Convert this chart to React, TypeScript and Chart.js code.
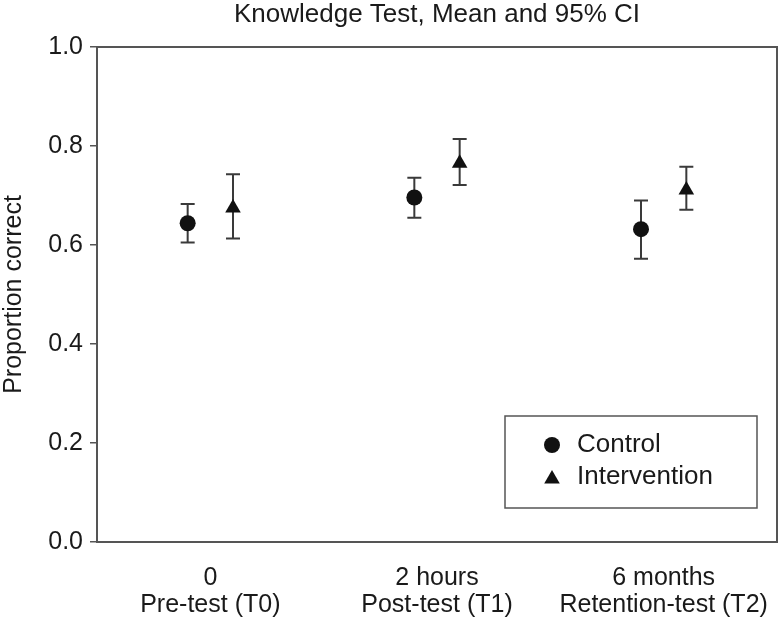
import React, { useEffect, useRef } from 'react';
import { Chart, registerables } from 'chart.js';

Chart.register(...registerables);

const categories: string[][] = [
  ['0', 'Pre-test (T0)'],
  ['2 hours', 'Post-test (T1)'],
  ['6 months', 'Retention-test (T2)'],
];
const categoryPositions = [1, 2, 3];
const groupOffset = 0.1;

const controlMean = [0.644, 0.696, 0.632];
const controlLower = [0.605, 0.655, 0.572];
const controlUpper = [0.683, 0.736, 0.69];

const interventionMean = [0.675, 0.765, 0.711];
const interventionLower = [0.613, 0.721, 0.671];
const interventionUpper = [0.743, 0.814, 0.758];

const yTicks = [0, 0.2, 0.4, 0.6, 0.8, 1.0];

const FONT = "'Liberation Sans', Arial, Helvetica, sans-serif";
const INK = '#111111';

function drawMarker(ctx: CanvasRenderingContext2D, style: string, x: number, y: number, r: number) {
  ctx.beginPath();
  if (style === 'triangle') {
    let rad = 0;
    const third = (2 * Math.PI) / 3;
    ctx.moveTo(x + Math.sin(rad) * r, y - Math.cos(rad) * r);
    rad += third;
    ctx.lineTo(x + Math.sin(rad) * r, y - Math.cos(rad) * r);
    rad += third;
    ctx.lineTo(x + Math.sin(rad) * r, y - Math.cos(rad) * r);
    ctx.closePath();
  } else {
    ctx.arc(x, y, r, 0, Math.PI * 2);
  }
  ctx.fill();
}

const errorBarPlugin = {
  id: 'errorBars',
  beforeDatasetsDraw(chart: any) {
    const ctx: CanvasRenderingContext2D = chart.ctx;
    const yScale = chart.scales.y;
    chart.data.datasets.forEach((ds: any, i: number) => {
      const meta = chart.getDatasetMeta(i);
      meta.data.forEach((pt: any, j: number) => {
        const x = pt.x;
        const yl = yScale.getPixelForValue(ds.lower[j]);
        const yu = yScale.getPixelForValue(ds.upper[j]);
        ctx.save();
        ctx.strokeStyle = '#3a3a3a';
        ctx.lineWidth = 2;
        ctx.beginPath();
        ctx.moveTo(x, yl);
        ctx.lineTo(x, yu);
        ctx.moveTo(x - 7, yl);
        ctx.lineTo(x + 7, yl);
        ctx.moveTo(x - 7, yu);
        ctx.lineTo(x + 7, yu);
        ctx.stroke();
        ctx.restore();
      });
    });
  },
};

const framePlugin = {
  id: 'frame',
  afterDatasetsDraw(chart: any) {
    const { ctx, chartArea } = chart;
    ctx.save();
    ctx.strokeStyle = '#555555';
    ctx.lineWidth = 2;
    ctx.strokeRect(chartArea.left, chartArea.top, chartArea.right - chartArea.left, chartArea.bottom - chartArea.top);
    ctx.restore();
  },
};

const boxLegendPlugin = {
  id: 'boxLegend',
  afterDraw(chart: any) {
    const { ctx, chartArea } = chart;
    const w = 252;
    const h = 92;
    const left = chartArea.right - 20 - w;
    const top = chartArea.bottom - 34 - h;
    ctx.save();
    ctx.fillStyle = '#ffffff';
    ctx.fillRect(left, top, w, h);
    ctx.strokeStyle = '#555555';
    ctx.lineWidth = 1.5;
    ctx.strokeRect(left, top, w, h);
    const rowY = [top + 29, top + 61];
    chart.data.datasets.forEach((ds: any, i: number) => {
      const y = rowY[i];
      ctx.fillStyle = INK;
      if (ds.pointStyle === 'triangle') {
        drawMarker(ctx, 'triangle', left + 47, y + 2, 9);
      } else {
        drawMarker(ctx, 'circle', left + 47, y, 8);
      }
      ctx.fillStyle = '#1a1a1a';
      ctx.font = `26px ${FONT}`;
      ctx.textAlign = 'left';
      ctx.textBaseline = 'middle';
      ctx.fillText(ds.label, left + 72, y);
    });
    ctx.restore();
  },
};

export default function App() {
  const canvasRef = useRef<HTMLCanvasElement | null>(null);

  useEffect(() => {
    if (!canvasRef.current) return;
    Chart.defaults.font.family = FONT;
    const chart = new Chart(canvasRef.current, {
      type: 'scatter',
      data: {
        datasets: [
          {
            label: 'Control',
            data: categoryPositions.map((p, i) => ({ x: p - groupOffset, y: controlMean[i] })),
            lower: controlLower,
            upper: controlUpper,
            pointStyle: 'circle',
            pointRadius: 8,
            pointBackgroundColor: INK,
            pointBorderWidth: 0,
            showLine: false,
          } as any,
          {
            label: 'Intervention',
            data: categoryPositions.map((p, i) => ({ x: p + groupOffset, y: interventionMean[i] })),
            lower: interventionLower,
            upper: interventionUpper,
            pointStyle: 'triangle',
            pointRadius: 9,
            pointBackgroundColor: INK,
            pointBorderWidth: 0,
            showLine: false,
          } as any,
        ],
      },
      options: {
        animation: false,
        responsive: true,
        maintainAspectRatio: false,
        layout: { autoPadding: false, padding: { left: 0, right: 4, top: 0, bottom: 0 } },
        plugins: {
          legend: { display: false },
          tooltip: { enabled: false },
          title: {
            display: true,
            fullSize: false,
            text: 'Knowledge Test, Mean and 95% CI',
            color: '#1a1a1a',
            font: { size: 26, weight: 'normal', lineHeight: 1 },
            padding: { top: 1.5, bottom: 19.5 },
          },
        },
        scales: {
          x: {
            type: 'linear',
            min: 0.5,
            max: 3.5,
            afterBuildTicks: (scale: any) => {
              scale.ticks = categoryPositions.map((v) => ({ value: v }));
            },
            afterFit: (scale: any) => {
              scale.height = 80;
              scale.paddingLeft = 0;
              scale.paddingRight = 0;
            },
            ticks: {
              autoSkip: false,
              maxRotation: 0,
              minRotation: 0,
              padding: 22,
              color: '#1a1a1a',
              font: { size: 25, lineHeight: 1.1 },
              callback: (v: any) => categories[categoryPositions.indexOf(Number(v))] as any,
            },
            grid: { display: false, drawTicks: false },
            border: { display: false },
          },
          y: {
            type: 'linear',
            min: 0,
            max: 1,
            afterBuildTicks: (scale: any) => {
              scale.ticks = yTicks.map((v) => ({ value: v }));
            },
            afterFit: (scale: any) => {
              scale.width = 97;
            },
            title: {
              display: true,
              text: 'Proportion correct',
              color: '#1a1a1a',
              font: { size: 25, lineHeight: 1 },
              padding: { top: 1.5, bottom: 0 },
            },
            ticks: {
              padding: 7,
              color: '#1a1a1a',
              font: { size: 25 },
              callback: (v: any) => Number(v).toFixed(1),
            },
            grid: {
              display: true,
              drawOnChartArea: false,
              drawTicks: true,
              tickLength: 7,
              color: '#555555',
              lineWidth: 1.5,
            },
            border: { display: false },
          },
        },
      },
      plugins: [errorBarPlugin, framePlugin, boxLegendPlugin],
    });
    return () => chart.destroy();
  }, []);

  return (
    <div style={{ position: 'absolute', left: 0, top: 0, width: 781, height: 622, background: '#ffffff', overflow: 'hidden' }}>
      <canvas ref={canvasRef} style={{ display: 'block' }} />
    </div>
  );
}
